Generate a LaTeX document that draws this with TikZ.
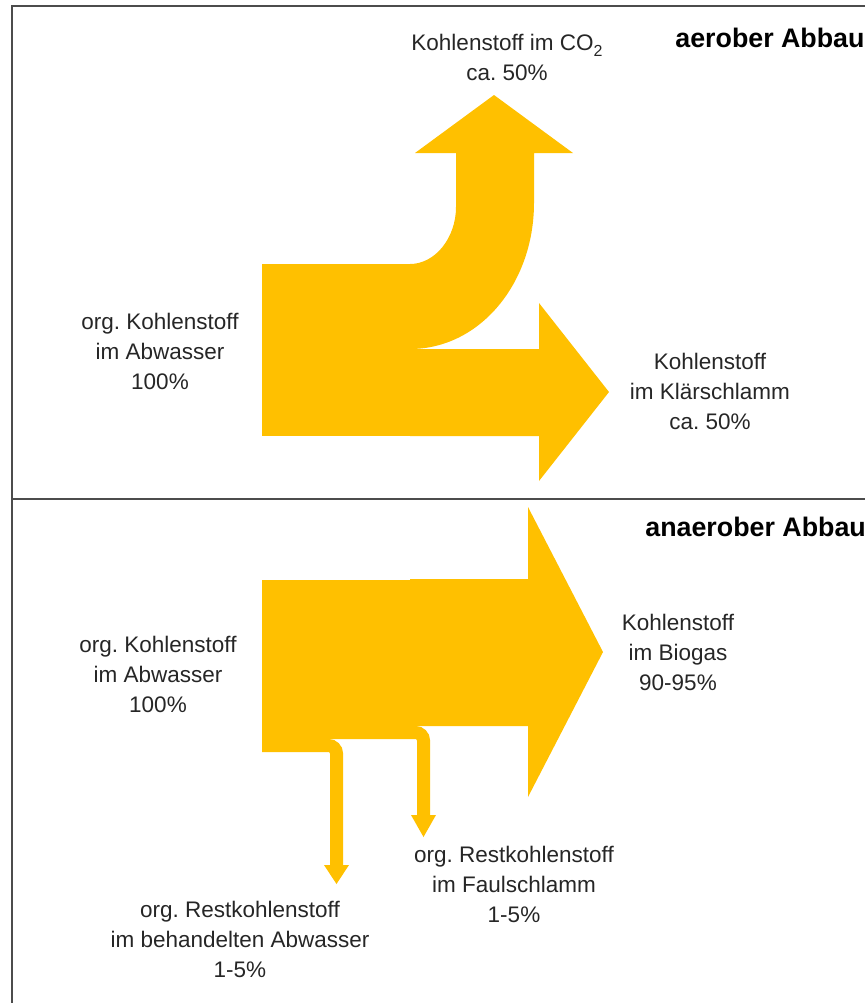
\documentclass[tikz,border=0pt]{standalone}
\usepackage{fontspec}
\setmainfont{Liberation Sans}
\frenchspacing
\definecolor{gold}{HTML}{FFC000}
\definecolor{txt}{HTML}{262626}
\tikzset{
  lab/.style={align=center, text=txt, inner sep=0pt, font=\fontsize{11.25}{15}\selectfont},
  title/.style={anchor=west, inner sep=0pt, font=\fontsize{13.4}{15}\selectfont\bfseries},
  frame/.style={draw=black!70, line width=.75pt},
  thinflow/.style={draw=gold, line width=6.5pt, rounded corners=4pt}
}
\newcommand{\subtwo}{\raisebox{-.55ex}{\fontsize{8}{8}\selectfont 2}}
\begin{document}
\begin{tikzpicture}[x=.5pt, y=-.5pt]
\useasboundingbox (0,0) rectangle (865,1003);
\begin{scope}
\clip (0,0) rectangle (865,1003);
\draw[frame] (12,6) rectangle (900,1040);
\draw[frame] (12,499)--(900,499);
\node (aerob) at (675,38)[title]{aerober Abbau};
\node (anaerob) at (645,527)[title]{anaerober Abbau};
\end{scope}

% aerob
\fill[gold] (262,264) rectangle (412,436);
\fill[gold] (410,349)--(539,349)--(539,303)--(609,392)--(539,481)--(539,436)--(410,436)--cycle;
\fill[gold] (410,264) .. controls (435,264) and (456,238) .. (456,207)--(456,153)--(415,153)--(494,95)
  --(573,153)--(534,153)--(534,203) .. controls (534,283) and (480,349) .. (410,349)--cycle;

\node (co2) at (507,57)[lab]{Kohlenstoff im CO\subtwo\\ca. 50\%};
\node (inA) at (160,351)[lab]{org. Kohlenstoff\\im Abwasser\\100\%};
\node (klaer) at (710,391)[lab]{Kohlenstoff\\im Klärschlamm\\ca. 50\%};

% anaerob
\fill[gold] (262,580) rectangle (412,726);
\fill[gold] (410,579)--(528,579)--(528,507)--(603,652)--(528,797)--(528,726)--(410,726)--cycle;
\coordinate (faul) at (423.5,837);
\coordinate (rest) at (336.5,884);
\draw[thinflow] (262,732.5)--(423.5,732.5)--(423.5,816);
\fill[gold] (411,815)--(436,815)--(faul)--cycle;
\draw[thinflow] (262,745.5)--(336.5,745.5)--(336.5,866);
\fill[gold] (324,865)--(349,865)--(rest)--cycle;

\node (inB) at (158,674)[lab]{org. Kohlenstoff\\im Abwasser\\100\%};
\node (biogas) at (678,652)[lab]{Kohlenstoff\\im Biogas\\90-95\%};
\node (faulL) at (514,884)[lab]{org. Restkohlenstoff\\im Faulschlamm\\1-5\%};
\node (restL) at (240,939)[lab]{org. Restkohlenstoff\\im behandelten Abwasser\\1-5\%};
\end{tikzpicture}
\end{document}
